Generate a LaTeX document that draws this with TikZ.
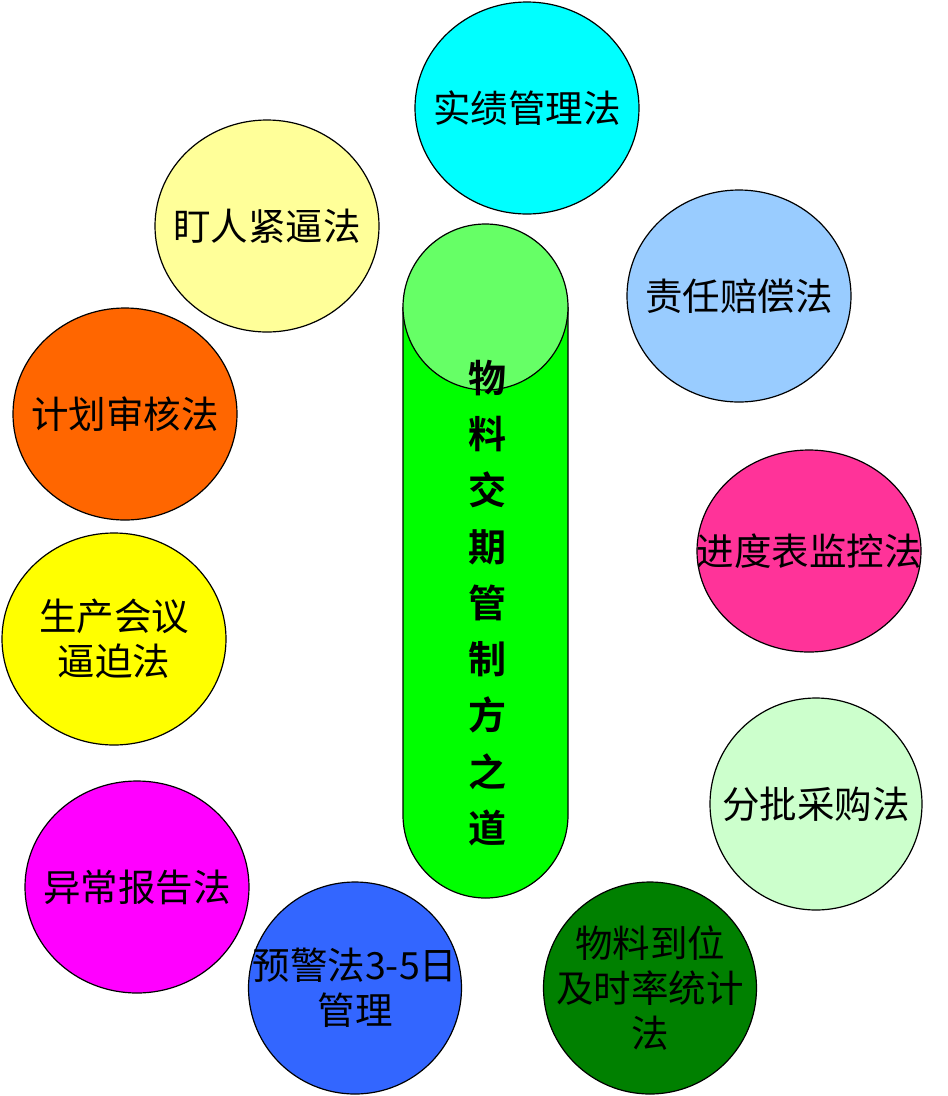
\documentclass[tikz,border=0pt]{standalone}
\usepackage{fontspec}
\setmainfont{Noto Sans CJK SC}
\newfontfamily\titlefont{Noto Sans CJK SC Bold}
\usepackage{tikz}
\usetikzlibrary{shapes.geometric}

\definecolor{cyanA}{HTML}{00FFFF}
\definecolor{paleYellow}{HTML}{FFFF99}
\definecolor{skyBlue}{HTML}{99CCFF}
\definecolor{orangeA}{HTML}{FF6600}
\definecolor{pinkA}{HTML}{FF3399}
\definecolor{yellowA}{HTML}{FFFF00}
\definecolor{mintA}{HTML}{CCFFCC}
\definecolor{magentaA}{HTML}{FF00FF}
\definecolor{blueA}{HTML}{3366FF}
\definecolor{darkGreen}{HTML}{008000}
\definecolor{tubeBody}{HTML}{00FF00}
\definecolor{tubeTop}{HTML}{66FF66}

\begin{document}
\begin{tikzpicture}
        [x=1pt,y=-1pt,
         bubble/.style={ellipse, draw=black, line width=1.2pt, fill=#1,
           minimum width=224pt, minimum height=212pt, inner sep=0pt},
         txt/.style={align=center, font=\fontsize{37.5pt}{45pt}\selectfont}]
      \useasboundingbox (0,0) rectangle (948,1096);
      % middle tube
      \fill[tubeBody] (403,307) -- (403,815) arc[start angle=180, end angle=360,
        x radius=82.5, y radius=-83] -- (568,307) -- cycle;
      \draw[line width=1.2pt] (403,307) -- (403,815) arc[start angle=180, end angle=360,
        x radius=82.5, y radius=-83] -- (568,307);
      \node[ellipse, draw=black, line width=1.2pt, fill=tubeTop, inner sep=0pt,
        minimum width=165pt, minimum height=166pt] (top) at (485.5,307) {};
      \node[align=center, font=\titlefont\fontsize{38pt}{56.25pt}\selectfont]
        (title) at (487,603) {物\\料\\交\\期\\管\\制\\方\\之\\道};
      % methods
      \node[bubble=cyanA]      (shiji)   at (527,108) {};
      \node[bubble=paleYellow] (dingren) at (267,226) {};
      \node[bubble=skyBlue]    (zeren)   at (739,296) {};
      \node[bubble=orangeA]    (jihua)   at (125,414) {};
      \node[bubble=pinkA, minimum height=202pt] (jindu) at (809,551) {};
      \node[bubble=yellowA]    (huiyi)   at (114,639) {};
      \node[bubble=mintA, minimum width=212pt] (fenpi) at (816,804) {};
      \node[bubble=magentaA]   (yichang) at (137,887) {};
      \node[bubble=blueA, minimum width=213pt]     (yujing)  at (355,988) {};
      \node[bubble=darkGreen, minimum width=213pt] (daowei)  at (650,988) {};
      \node[txt] at (shiji)   {实绩管理法};
      \node[txt] at (dingren) {盯人紧逼法};
      \node[txt] at (zeren)   {责任赔偿法};
      \node[txt] at (jihua)   {计划审核法};
      \node[txt] at (jindu)   {进度表监控法};
      \node[txt] at (huiyi)   {生产会议\\逼迫法};
      \node[txt] at (fenpi)   {分批采购法};
      \node[txt] at (yichang) {异常报告法};
      \node[txt] at (yujing)  {预警法3-5日\\管理};
      \node[txt] at (daowei)  {物料到位\\及时率统计\\法};
      \end{tikzpicture}
\end{document}
